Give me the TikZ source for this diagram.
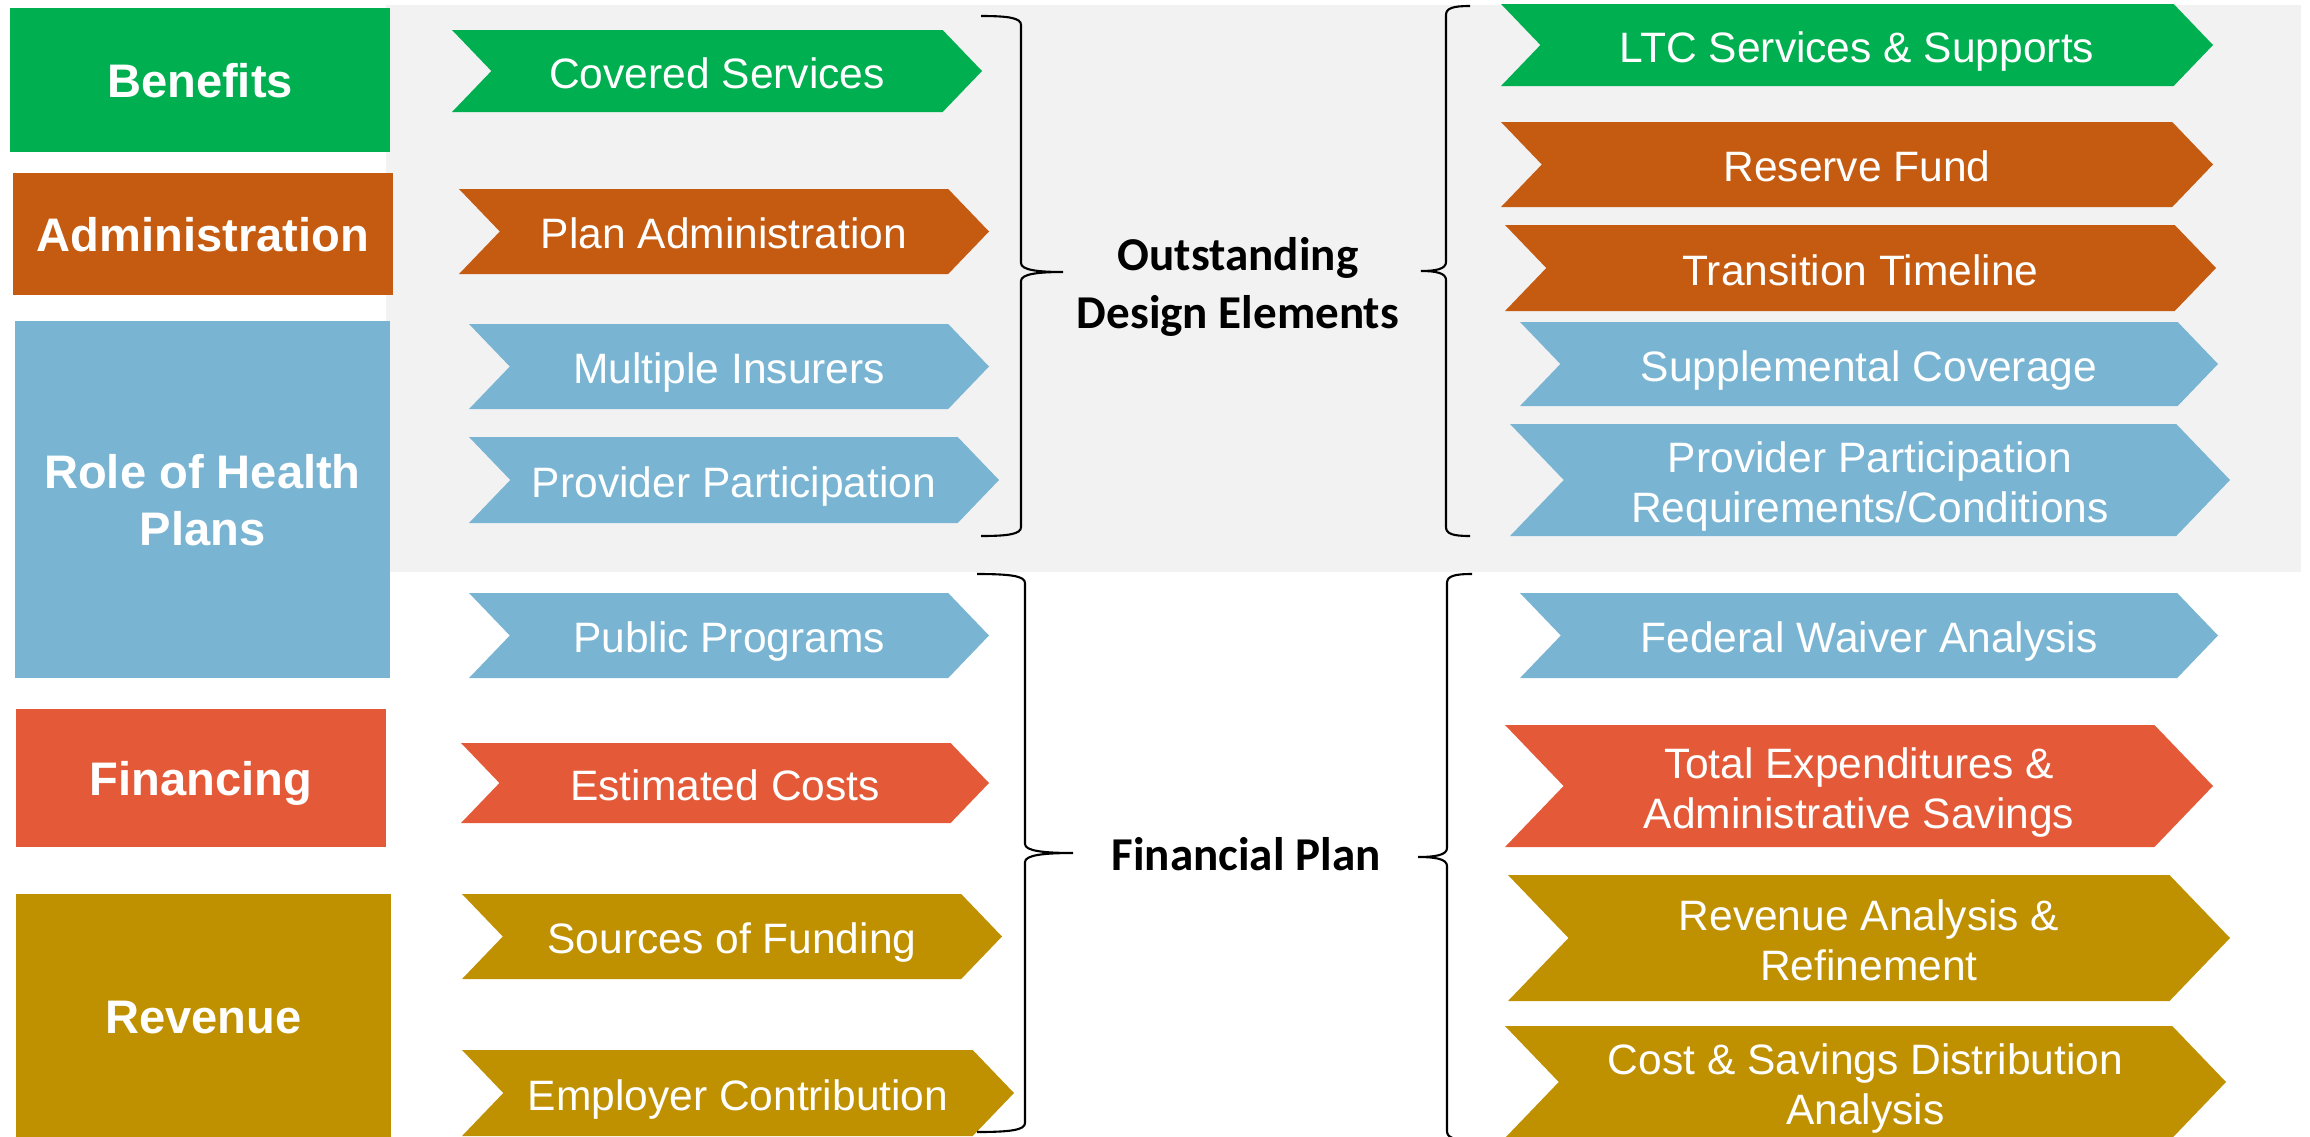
\documentclass[tikz,border=0pt]{standalone}
\usepackage{fontspec}
\setmainfont{Liberation Sans}
\newfontfamily\labelfont{Carlito}

\definecolor{benefitGreen}{HTML}{00B050}
\definecolor{adminBrown}{HTML}{C55A11}
\definecolor{roleBlue}{HTML}{79B5D3}
\definecolor{financeRed}{HTML}{E45A38}
\definecolor{revenueGold}{HTML}{BF9000}
\definecolor{panelGrey}{HTML}{F2F2F2}

\tikzset{topicbox/.style={text=white, inner sep=0pt, align=center, text depth=0pt,
        font=\fontsize{13.4pt}{16.2pt}\selectfont\bfseries},
    steptext/.style={text=white, inner sep=0pt, align=center, text depth=0pt,
        font=\fontsize{12.1pt}{14.2pt}\selectfont},
    grouplabel/.style={align=center, text depth=0pt,
        font=\labelfont\fontsize{13.4pt}{16.5pt}\selectfont\bfseries},
    braceline/.style={line width=0.6pt},
    }

% chevron: name, colour, left x, tip x, top y, bottom y, text
\newcommand{\stepchevron}[7]{%
    \fill[#2] (#3,#5) -- ({#4-0.48*(#6-#5)},#5) -- (#4,{(#5+#6)/2})
        -- ({#4-0.48*(#6-#5)},#6) -- (#3,#6) -- ({#3+0.48*(#6-#5)},{(#5+#6)/2}) -- cycle;
    \node[steptext] (#1) at ({(#3+#4)/2},{(#5+#6)/2+2}) {#7};
}
% brace: arm x, spine x, tip x, top, middle, bottom
\newcommand{\groupbrace}[6]{%
    \draw[braceline] (#1,#4) .. controls ({#2+0.3*(#1-#2)},#4) and (#2,#4+2) .. (#2,#4+9)
        -- (#2,#5-9) .. controls (#2,#5-2) and ({#2+0.4*(#3-#2)},#5) .. (#3,#5)
        .. controls ({#2+0.4*(#3-#2)},#5) and (#2,#5+2) .. (#2,#5+9)
        -- (#2,#6-9) .. controls (#2,#6-2) and ({#2+0.3*(#1-#2)},#6) .. (#1,#6);
}

\begin{document}
\begin{tikzpicture}[x=0.1mm, y=-0.1mm]
	\useasboundingbox (0,0) rectangle (2310,1136);
	\clip (0,0) rectangle (2310,1136);
	\fill[panelGrey] (386,5) rectangle (2301,572);

	% topics
	\node[topicbox, fill=benefitGreen, minimum width=38mm, minimum height=14.4mm] (benefitsBox) at (200,80) {Benefits};
	\node[topicbox, fill=adminBrown, minimum width=38mm, minimum height=12.2mm] (adminBox) at (203,234) {Administration};
	\node[topicbox, fill=roleBlue, minimum width=37.5mm, minimum height=35.7mm] (roleBox) at (202.5,499.5) {Role of Health\\Plans};
	\node[topicbox, fill=financeRed, minimum width=37mm, minimum height=13.8mm] (financingBox) at (201,778) {Financing};
	\node[topicbox, fill=revenueGold, minimum width=37.5mm, minimum height=24.6mm] (revenueBox) at (203.5,1017) {Revenue};

	% first column
	\stepchevron{coveredSrv}{benefitGreen}{452}{982}{30}{112}{Covered Services}
	\stepchevron{planAdmin}{adminBrown}{459}{989}{189}{274}{Plan Administration}
	\stepchevron{multiIns}{roleBlue}{469}{989}{324}{409}{Multiple Insurers}
	\stepchevron{providerPart}{roleBlue}{469}{999}{437}{523}{Provider Participation}
	\stepchevron{publicProg}{roleBlue}{469}{989}{593}{678}{Public Programs}
	\stepchevron{estCosts}{financeRed}{461}{989}{743}{823}{Estimated Costs}
	\stepchevron{fundSources}{revenueGold}{462}{1002}{894}{979}{Sources of Funding}
	\stepchevron{employerContr}{revenueGold}{462}{1014}{1050}{1136}{Employer Contribution}

	% second column
	\stepchevron{ltcSrv}{benefitGreen}{1501}{2213}{4}{86}{LTC Services \& Supports}
	\stepchevron{reserveFund}{adminBrown}{1501}{2213}{122}{207}{Reserve Fund}
	\stepchevron{transTimeline}{adminBrown}{1505}{2216}{225}{311}{Transition Timeline}
	\stepchevron{supplCoverage}{roleBlue}{1520}{2218}{322}{406}{Supplemental Coverage}
	\stepchevron{providerReq}{roleBlue}{1510}{2230}{424}{536}{Provider Participation\\Requirements/Conditions}
	\stepchevron{waiverAnalysis}{roleBlue}{1520}{2218}{593}{678}{Federal Waiver Analysis}
	\stepchevron{totalExp}{financeRed}{1505}{2213}{725}{847}{Total Expenditures \&\\Administrative Savings}
	\stepchevron{revAnalysis}{revenueGold}{1508}{2230}{875}{1001}{Revenue Analysis \&\\Refinement}
	\stepchevron{costDist}{revenueGold}{1505}{2226}{1026}{1138}{Cost \& Savings Distribution\\Analysis}

	% braces and group names
	\groupbrace{981}{1021}{1063}{16}{272}{536}
	\groupbrace{1470}{1446}{1421}{6}{271}{536}
	\groupbrace{977}{1025}{1073}{574}{853}{1132}
	\groupbrace{1472}{1447}{1418}{574}{857}{1140}
	\node[grouplabel] (designLabel) at (1238,283) {Outstanding\\Design Elements};
	\node[grouplabel] (planLabel) at (1246,854) {Financial Plan};
\end{tikzpicture}
\end{document}
